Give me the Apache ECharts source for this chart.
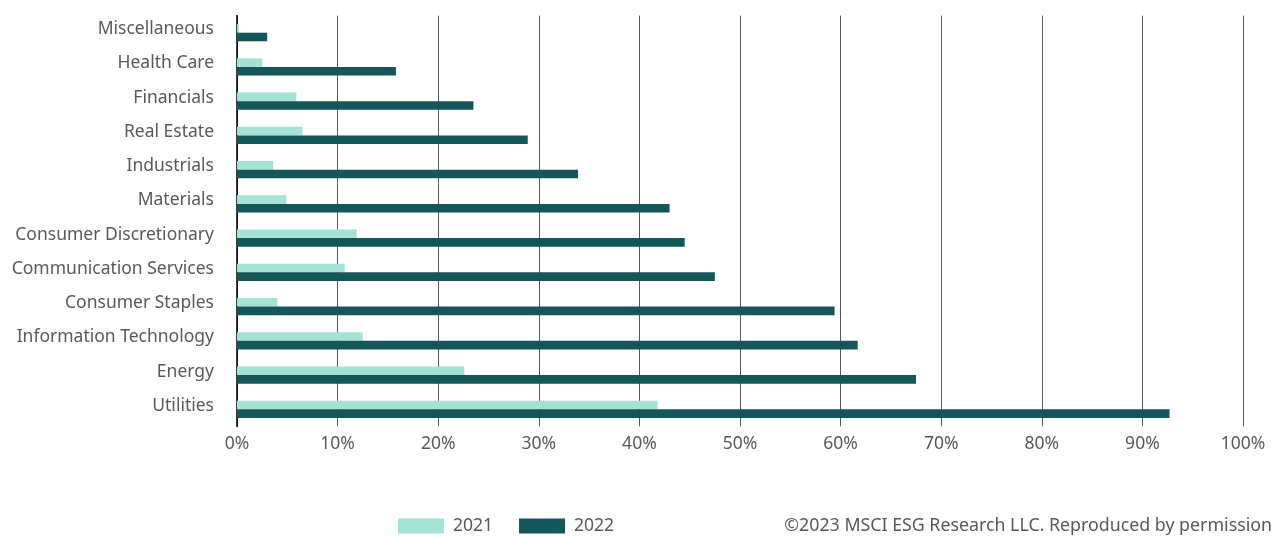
<!DOCTYPE html>
<html>
<head>
<meta charset="utf-8">
<script src="https://cdn.jsdelivr.net/npm/echarts@6/dist/echarts.min.js"></script>
<style>
  html, body { margin: 0; padding: 0; background: #fff; }
  #chart { width: 1274px; height: 536px; }
</style>
</head>
<body>
<div id="chart"></div>
<script>
// Sectors, listed bottom to top along the category axis
const sectors = [
  'Utilities', 'Energy', 'Information Technology', 'Consumer Staples',
  'Communication Services', 'Consumer Discretionary', 'Materials',
  'Industrials', 'Real Estate', 'Financials', 'Health Care', 'Miscellaneous'
];
// Share of companies, percent
const values2021 = [41.8, 22.6, 12.5, 4.0, 10.7, 11.9, 4.9, 3.6, 6.5, 5.9, 2.5, 0.2];
const values2022 = [92.7, 67.5, 61.7, 59.4, 47.5, 44.5, 43.0, 33.9, 28.9, 23.5, 15.8, 3.0];
const seriesNames = ['2021', '2022'];
const xTicks = [0, 10, 20, 30, 40, 50, 60, 70, 80, 90, 100];

const FONT = 'Noto Sans';
const SIZE = 17.5;
const TEXT = '#595959';

const chart = echarts.init(document.getElementById('chart'), null, { renderer: 'canvas' });
chart.setOption({
  animation: false,
  backgroundColor: '#ffffff',
  textStyle: { fontFamily: FONT },
  grid: { left: 237, right: 31, top: 15.6, bottom: 109.6, containLabel: false },
  legend: {
    left: 393,
    top: 512,
    itemWidth: 46,
    itemHeight: 15,
    itemGap: 26,
    icon: 'rect',
    textStyle: { fontFamily: FONT, fontSize: SIZE, color: TEXT, padding: [0, 0, 0, 4] },
    data: seriesNames
  },
  xAxis: {
    type: 'value',
    min: xTicks[0],
    max: xTicks[xTicks.length - 1],
    interval: 10,
    axisLine: { show: false },
    axisTick: { show: false },
    axisLabel: {
      formatter: v => v + '%',
      fontFamily: FONT, fontSize: SIZE, color: TEXT, margin: 9
    },
    splitLine: { show: true, lineStyle: { color: '#595959', width: 1 } }
  },
  yAxis: {
    type: 'category',
    data: sectors,
    axisLine: { show: true, lineStyle: { color: '#000000', width: 1.5 } },
    axisTick: { show: false },
    axisLabel: {
      fontFamily: FONT, fontSize: SIZE, color: TEXT, margin: 23,
      verticalAlign: 'bottom', lineHeight: 7
    },
    splitLine: { show: false }
  },
  series: [
    {
      name: seriesNames[0], type: 'bar', data: values2021,
      itemStyle: { color: '#a4e2d3' },
      barWidth: 8.6, barGap: '0%'
    },
    {
      name: seriesNames[1], type: 'bar', data: values2022,
      itemStyle: { color: '#14565a' },
      barWidth: 8.6, barGap: '0%'
    }
  ],
  graphic: [{
    type: 'text',
    right: 2,
    top: 517,
    style: {
      text: '©2023 MSCI ESG Research LLC. Reproduced by permission',
      fontFamily: FONT, fontSize: 17.8, fill: TEXT
    }
  }]
});
</script>
</body>
</html>
